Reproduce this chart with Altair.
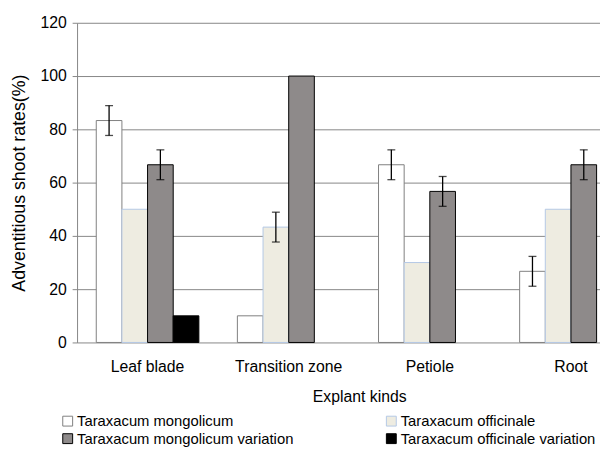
import altair as alt
import pandas as pd

categories = ["Leaf blade", "Transition zone", "Petiole", "Root"]
series = [
    "Taraxacum mongolicum",
    "Taraxacum officinale",
    "Taraxacum mongolicum variation",
    "Taraxacum officinale variation",
]
mongolicum = [83.3, 10.0, 66.7, 26.7]
officinale = [50.0, 43.3, 30.0, 50.0]
mongolicum_var = [66.7, 100.0, 56.7, 66.7]
officinale_var = [10.0, 0.0, 0.0, 0.0]
mongolicum_err = [5.6, 0.0, 5.6, 5.6]
officinale_err = [0.0, 5.6, 0.0, 0.0]
mongolicum_var_err = [5.6, 0.0, 5.6, 5.6]
officinale_var_err = [0.0, 0.0, 0.0, 0.0]

fills = ["#ffffff", "#eeece1", "#8e8a8a", "#000000"]
strokes = ["#7f7f7f", "#b4c8e6", "#000000", "#000000"]
stroke_widths = [1.0, 1.0, 1.6, 1.0]

values = [mongolicum, officinale, mongolicum_var, officinale_var]
errors = [mongolicum_err, officinale_err, mongolicum_var_err, officinale_var_err]
rows = []
for s, vals, errs in zip(series, values, errors):
    for c, v, e in zip(categories, vals, errs):
        rows.append({"category": c, "series": s, "value": v, "err": e})
df = pd.DataFrame(rows)

FONT = "Liberation Sans"
GRID = "#868686"
YTITLE = "Adventitious shoot rates(%)"

xscale = alt.Scale(domain=categories, range=[0, 572], paddingInner=0.273, paddingOuter=0.136)
yscale = alt.Scale(domain=[0, 120], nice=False)
xo = alt.XOffset("series:N", scale=alt.Scale(domain=series, paddingInner=0, paddingOuter=0))

x_enc = alt.X(
    "category:N",
    scale=xscale,
    sort=categories,
    title="Explant kinds",
    axis=alt.Axis(
        labelAngle=0, ticks=False, domain=False, grid=False,
        labelFontSize=16, labelPadding=16, labelColor="black",
        titleFontSize=16, titleX=286, titleY=55, titleBaseline="middle",
    ),
)
y_axis = alt.Axis(
    values=[0, 20, 40, 60, 80, 100, 120], tickSize=5, tickColor=GRID,
    domainColor=GRID, gridColor=GRID, grid=True, labelFontSize=16,
    labelPadding=6, titleFontSize=18, titlePadding=12,
)

legend = alt.Legend(
    title=None, orient="none", legendX=-17, legendY=396, columns=2,
    direction="horizontal", columnPadding=91, rowPadding=2,
    symbolType="square", symbolSize=100,
    labelFontSize=15, labelFont=FONT, labelColor="black", labelOffset=2,
    symbolStrokeWidth=1, labelLimit=400,
)

base = alt.Chart(df)

bars = base.transform_filter("datum.value > 0").mark_bar().encode(
    x=x_enc,
    xOffset=xo,
    y=alt.Y("value:Q", scale=yscale, axis=y_axis, title=YTITLE),
    fill=alt.Fill("series:N", scale=alt.Scale(domain=series, range=fills), legend=legend),
    stroke=alt.Stroke("series:N", scale=alt.Scale(domain=series, range=strokes), legend=legend),
    strokeWidth=alt.StrokeWidth("series:N", scale=alt.Scale(domain=series, range=stroke_widths), legend=None),
)

errbase = base.transform_filter("datum.err > 0").transform_calculate(
    lo="datum.value - datum.err", hi="datum.value + datum.err"
)

rules = errbase.mark_rule(color="black", strokeWidth=1.3).encode(
    x=x_enc,
    xOffset=xo,
    y=alt.Y("lo:Q", scale=yscale, title=YTITLE),
    y2="hi:Q",
)

caps = errbase.transform_fold(["lo", "hi"], as_=["end", "pos"]).mark_tick(
    color="black", size=8, thickness=1.3
).encode(
    x=x_enc,
    xOffset=xo,
    y=alt.Y("pos:Q", scale=yscale, title=YTITLE),
)

chart = alt.layer(bars, rules, caps).properties(
    width=530,
    height=324,
    autosize=alt.AutoSizeParams(type="none"),
    padding={"left": 70, "top": 12, "right": 0, "bottom": 104},
).configure_axis(
    labelFont=FONT, titleFont=FONT, labelColor="black", titleColor="black",
    titleFontWeight="normal",
).configure_view(stroke=None)

chart.save("out.html", embed_options={"renderer": "svg", "actions": False})
